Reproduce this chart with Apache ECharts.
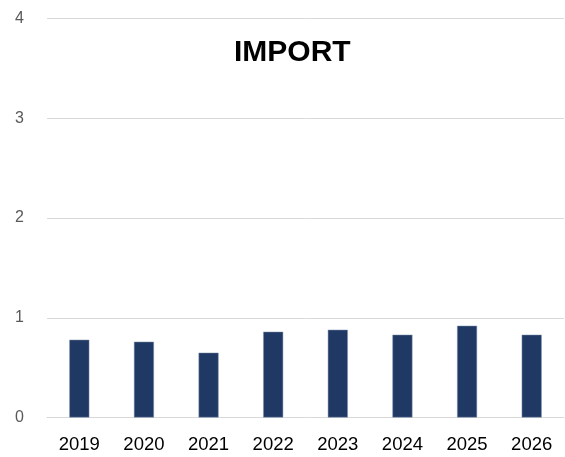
<!DOCTYPE html>
<html><head><meta charset="utf-8">
<script src="https://cdn.jsdelivr.net/npm/echarts@6/dist/echarts.min.js"></script>
<style>html,body{margin:0;padding:0;background:#fff}#c{width:565px;height:457px}</style>
</head><body><div id="c"></div>
<script>
var categories = ['2019','2020','2021','2022','2023','2024','2025','2026'];
var importValues = [0.78, 0.76, 0.65, 0.86, 0.88, 0.83, 0.92, 0.83];
var yTicks = [0, 1, 2, 3, 4];
var titleText = 'IMPORT';

var chart = echarts.init(document.getElementById('c'), null, {renderer:'canvas'});
chart.setOption({
  animation: false,
  backgroundColor: '#fff',
  title: {
    text: titleText, left: 234, top: 37.5, padding: 0,
    textStyle: {fontFamily: 'Liberation Sans', fontWeight: 'bold', fontSize: 30, color: '#000'}
  },
  grid: {left: 47, right: 1, top: 18.5, bottom: 39.5, containLabel: false},
  xAxis: {
    type: 'category', data: categories,
    axisLine: {show: true, lineStyle: {color: '#d9d9d9', width: 1}},
    axisTick: {show: false},
    axisLabel: {margin: 18, fontSize: 18.5, color: '#000', fontFamily: 'Liberation Sans'}
  },
  yAxis: {
    type: 'value', min: yTicks[0], max: yTicks[yTicks.length-1], interval: 1,
    axisLine: {show: false}, axisTick: {show: false},
    splitLine: {lineStyle: {color: '#d9d9d9', width: 1}},
    axisLabel: {margin: 23, fontSize: 16, color: '#595959', fontFamily: 'Liberation Sans'}
  },
  series: [{
    type: 'bar', data: importValues, barWidth: 20,
    itemStyle: {color: '#1f3864', borderColor: '#8497b0', borderWidth: 0.5},
    z: 1
  }]
});
</script></body></html>
